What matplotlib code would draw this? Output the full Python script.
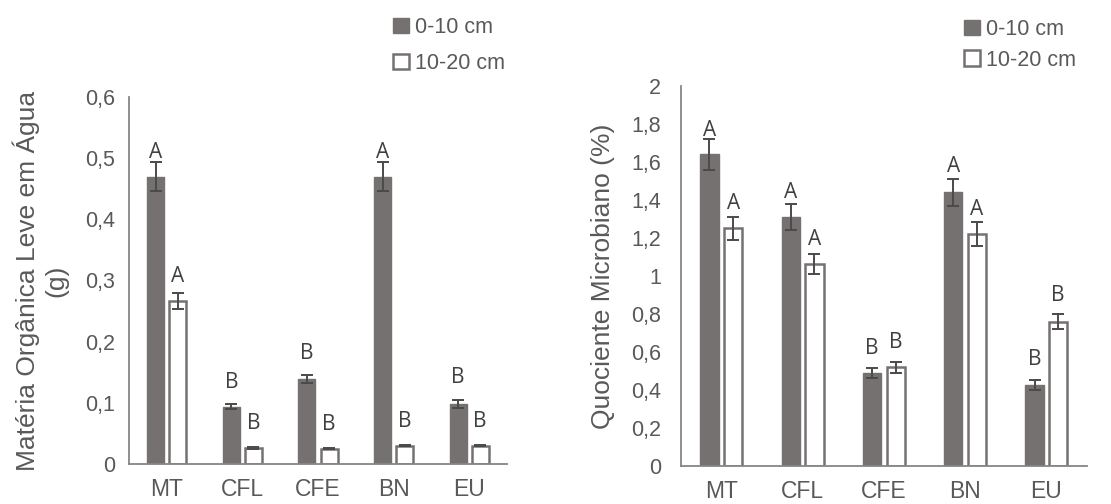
import matplotlib
matplotlib.use("Agg")
import matplotlib.pyplot as plt
import numpy as np
from matplotlib.ticker import FuncFormatter, MultipleLocator

# ---------------- data ----------------
categories = ["MT", "CFL", "CFE", "BN", "EU"]
series_names = ["0-10 cm", "10-20 cm"]

# Left panel: Matéria Orgânica Leve em Água (g)
mol_0_10 = [0.47, 0.094, 0.139, 0.47, 0.098]
mol_0_10_err = [0.024, 0.004, 0.007, 0.024, 0.006]
mol_10_20 = [0.266, 0.026, 0.025, 0.030, 0.030]
mol_10_20_err = [0.013, 0.001, 0.001, 0.001, 0.001]
mol_letters_0_10 = ["A", "B", "B", "A", "B"]
mol_letters_10_20 = ["A", "B", "B", "B", "B"]
mol_letter_y_0_10 = [0.51, 0.134, 0.181, 0.51, 0.141]
mol_letter_y_10_20 = [0.306, 0.067, 0.065, 0.070, 0.069]

# Right panel: Quociente Microbiano (%)
qm_0_10 = [1.64, 1.31, 0.488, 1.44, 0.426]
qm_0_10_err = [0.083, 0.068, 0.026, 0.07, 0.025]
qm_10_20 = [1.251, 1.061, 0.519, 1.221, 0.76]
qm_10_20_err = [0.06, 0.053, 0.027, 0.062, 0.038]
qm_letters_0_10 = ["A", "A", "B", "A", "B"]
qm_letters_10_20 = ["A", "A", "B", "A", "B"]
qm_letter_y_0_10 = [1.768, 1.438, 0.619, 1.575, 0.561]
qm_letter_y_10_20 = [1.379, 1.193, 0.651, 1.351, 0.896]

# ---------------- style ----------------
DARK = "#767171"
TEXT = "#595959"
AXIS = "#868686"
ERR = "#4a4a4a"
FONT = ["Liberation Sans", "DejaVu Sans"]
LETTER_FONT = ["Open Sans", "DejaVu Sans"]

plt.rcParams["font.family"] = FONT

W, H = 1111, 504
fig = plt.figure(figsize=(W / 100, H / 100), dpi=100)

def fmt(v, pos):
    return f"{v:g}".replace(".", ",")

def panel(rect, v1, e1, v2, e2, l1, l2, ly1, ly2, ymax, ystep, ylabel,
          leg_xy, leg_space, ypad, ylabpad):
    ax = fig.add_axes(rect)
    x = np.arange(len(categories))
    bw = 0.225
    off = 0.146
    b1 = ax.bar(x - off, v1, bw, color=DARK, edgecolor=DARK, linewidth=1.0,
                label=series_names[0], zorder=2)
    b2 = ax.bar(x + off, v2, bw, color="white", edgecolor=DARK, linewidth=1.8,
                label=series_names[1], zorder=2)
    ax.errorbar(x - off, v1, yerr=e1, fmt="none", ecolor=ERR, elinewidth=1.4,
                capsize=4, capthick=1.4, zorder=3)
    ax.errorbar(x + off, v2, yerr=e2, fmt="none", ecolor=ERR, elinewidth=1.4,
                capsize=4, capthick=1.4, zorder=3)
    for xi, t, yy in zip(x - off, l1, ly1):
        ax.text(xi, yy, t, ha="center", va="center", fontsize=15,
                color="#404040", family=LETTER_FONT)
    for xi, t, yy in zip(x + off, l2, ly2):
        ax.text(xi, yy, t, ha="center", va="center", fontsize=15,
                color="#404040", family=LETTER_FONT)
    ax.set_xlim(-0.5, len(categories) - 0.5)
    ax.set_ylim(0, ymax)
    ax.yaxis.set_major_locator(MultipleLocator(ystep))
    ax.yaxis.set_major_formatter(FuncFormatter(fmt))
    ax.set_xticks(x)
    ax.set_xticklabels(categories)
    for s in ["top", "right"]:
        ax.spines[s].set_visible(False)
    ax.spines["left"].set_color(AXIS)
    ax.spines["bottom"].set_color(AXIS)
    ax.spines["left"].set_linewidth(1.3)
    ax.spines["bottom"].set_linewidth(1.3)
    ax.tick_params(axis="both", length=0, colors=TEXT)
    ax.tick_params(axis="y", pad=ypad, labelsize=15.5)
    ax.tick_params(axis="x", pad=10, labelsize=16.5)
    ax.set_ylabel(ylabel, fontsize=19, color=TEXT, labelpad=ylabpad,
                  linespacing=1.25)
    ax.legend(handles=[b1, b2], loc="upper left",
              bbox_to_anchor=(leg_xy[0] / W, 1 - leg_xy[1] / H),
              bbox_transform=fig.transFigure, frameon=False, fontsize=15.5,
              handlelength=0.72, handleheight=0.72, handletextpad=0.3,
              labelspacing=leg_space, borderaxespad=0, borderpad=0,
              labelcolor=TEXT)
    return ax

panel([129 / W, 1 - 464 / H, 378 / W, 367 / H],
      mol_0_10, mol_0_10_err, mol_10_20, mol_10_20_err,
      mol_letters_0_10, mol_letters_10_20, mol_letter_y_0_10, mol_letter_y_10_20,
      0.6, 0.1, "Matéria Orgânica Leve em Água\n(g)", (393, 17), 0.7, 10, 12)

panel([680.7 / W, 1 - 466 / H, 406.3 / W, 380 / H],
      qm_0_10, qm_0_10_err, qm_10_20, qm_10_20_err,
      qm_letters_0_10, qm_letters_10_20, qm_letter_y_0_10, qm_letter_y_10_20,
      2.0, 0.2, "Quociente Microbiano (%)", (964, 19), 0.45, 14, 12)

fig.savefig("out.png", dpi=100)
